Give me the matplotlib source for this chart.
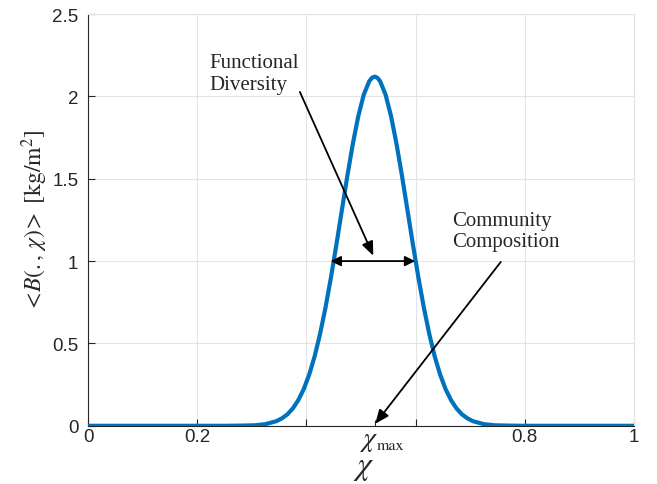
import matplotlib
matplotlib.use("Agg")
import matplotlib.pyplot as plt
from matplotlib.ticker import FixedLocator, NullFormatter

plt.rcParams['mathtext.fontset'] = 'stix'

# Values
chi = [0.0, 0.1, 0.2, 0.25, 0.275, 0.305, 0.325, 0.345, 0.355, 0.365, 0.375,
       0.385, 0.395, 0.405, 0.415, 0.425, 0.435, 0.445, 0.455, 0.465, 0.475,
       0.485, 0.495, 0.505, 0.515, 0.52, 0.525, 0.53, 0.535, 0.545, 0.555,
       0.565, 0.575, 0.585, 0.595, 0.605, 0.615, 0.625, 0.635, 0.645, 0.655,
       0.665, 0.675, 0.685, 0.695, 0.705, 0.725, 0.745, 0.775, 0.8, 0.9, 1.0]
biomass = [0.0, 0.0, 0.0, 0.0, 0.001, 0.003, 0.010, 0.028, 0.045, 0.069, 0.105,
           0.155, 0.222, 0.310, 0.421, 0.558, 0.719, 0.902, 1.102, 1.311, 1.518,
           1.712, 1.880, 2.010, 2.092, 2.113, 2.12, 2.113, 2.092, 2.010, 1.880,
           1.712, 1.518, 1.311, 1.102, 0.902, 0.719, 0.558, 0.421, 0.310, 0.222,
           0.155, 0.105, 0.069, 0.045, 0.028, 0.010, 0.003, 0.001, 0.0, 0.0, 0.0]

x_ticks = [0, 0.2, 0.4, 0.6, 0.8, 1]
x_ticklabels = ['0', '0.2', '', '', '0.8', '1']
y_ticks = [0, 0.5, 1, 1.5, 2, 2.5]
y_ticklabels = ['0', '0.5', '1', '1.5', '2', '2.5']
chi_max = 0.526
fd_left, fd_right, fd_level = 0.4445, 0.599, 1.0

fig = plt.figure(figsize=(6.57, 4.85), dpi=100)
ax = fig.add_axes([0.134, 0.12, 0.831, 0.849])

ax.plot(chi, biomass, color='#0072BD', linewidth=3.0, solid_capstyle='butt',
        solid_joinstyle='round', zorder=3)

ax.set_xlim(0, 1)
ax.set_ylim(0, 2.5)
ax.set_xticks(x_ticks)
ax.set_xticklabels(x_ticklabels)
ax.set_yticks(y_ticks)
ax.set_yticklabels(y_ticklabels)
ax.xaxis.set_minor_locator(FixedLocator([chi_max]))
ax.xaxis.set_minor_formatter(NullFormatter())
ax.tick_params(axis='x', which='minor', direction='in', length=4, width=0.8,
               color='#262626')
ax.tick_params(axis='both', which='major', direction='in', length=5, width=0.8,
               labelsize=13.5, color='#262626', labelcolor='#262626')
ax.tick_params(axis='x', which='major', pad=1.5)
ax.tick_params(axis='y', which='major', pad=7)
for lab in ax.get_xticklabels() + ax.get_yticklabels():
    lab.set_family('Liberation Sans')

# chi_max tick label (chi with small upright subscript)
ax.annotate(r'$\chi$', xy=(chi_max, 0), xycoords=('data', 'axes fraction'),
            xytext=(-7, -19), textcoords='offset pixels', fontsize=20,
            ha='center', va='baseline', color='#262626', annotation_clip=False)
ax.annotate('max', xy=(chi_max, 0), xycoords=('data', 'axes fraction'),
            xytext=(1.5, -23), textcoords='offset pixels', fontsize=11.5,
            family='STIXGeneral', ha='left', va='baseline', color='#262626',
            annotation_clip=False)

ax.grid(True, which='major', color='#e3e3e3', linewidth=0.8)
ax.set_axisbelow(True)
for s in ['top', 'right']:
    ax.spines[s].set_color('#e3e3e3')
for s in ['left', 'bottom']:
    ax.spines[s].set_color('#262626')
    ax.spines[s].set_linewidth(0.8)

ax.set_xlabel(r'$\chi$', fontsize=23, color='#262626', va='center')
ax.xaxis.set_label_coords(0.505, -0.1)
ax.set_ylabel(r'$<\!B(.,\, \chi)\!>$ [kg/m$^2$]', fontsize=17, family='STIXGeneral',
              color='#262626')
ax.yaxis.set_label_coords(-0.07, 0.5)

serif = 'Liberation Serif'
tcol = '#262626'
ax.text(0.2229, 2.178, 'Functional', fontsize=15, family=serif, color=tcol,
        ha='left', va='baseline')
ax.text(0.2229, 2.045, 'Diversity', fontsize=15, family=serif, color=tcol,
        ha='left', va='baseline')
ax.annotate('', xy=(0.5225, 1.033), xytext=(0.388, 2.027),
            arrowprops=dict(arrowstyle='-|>,head_length=0.6,head_width=0.25',
                            color='black', lw=1.3, mutation_scale=14,
                            shrinkA=0, shrinkB=0))
ax.annotate('', xy=(fd_left, fd_level), xytext=(fd_right, fd_level),
            arrowprops=dict(arrowstyle='<|-|>,head_length=0.5,head_width=0.25',
                            color='black', lw=1.3, mutation_scale=12,
                            shrinkA=0, shrinkB=0))

ax.text(0.666, 1.2197, 'Community', fontsize=15, family=serif, color=tcol,
        ha='left', va='baseline')
ax.text(0.666, 1.0904, 'Composition', fontsize=15, family=serif, color=tcol,
        ha='left', va='baseline')
ax.annotate('', xy=(chi_max, 0.012), xytext=(0.756, 0.995),
            arrowprops=dict(arrowstyle='-|>,head_length=0.6,head_width=0.25',
                            color='black', lw=1.3, mutation_scale=14,
                            shrinkA=0, shrinkB=0))

fig.savefig('out.png', dpi=100)
